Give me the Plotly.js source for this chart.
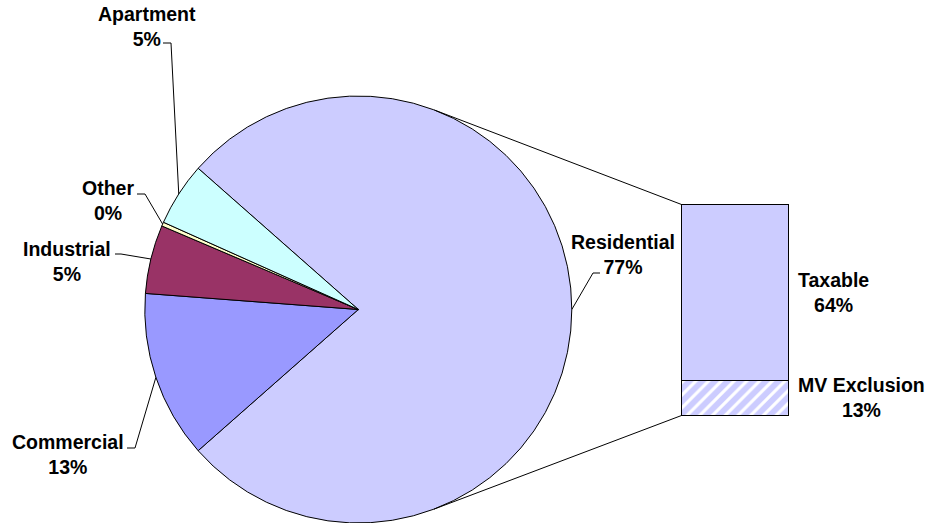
<!DOCTYPE html>
<html><head><meta charset="utf-8">
<script src="https://cdn.plot.ly/plotly-3.0.1.min.js"></script>
<style>html,body{margin:0;padding:0;background:#fff}#chart{width:932px;height:523px}</style>
</head><body><div id="chart"></div>
<script>
// ---- data ----
const pieLabels = ['Residential', 'Commercial', 'Industrial', 'Other', 'Apartment'];
const pieValues = [77.0, 12.7, 5.2, 0.3, 4.8];
const pieColors = ['#CCCCFF', '#9999FF', '#993366', '#FFFFCC', '#CCFFFF'];
const barLabels = ['MV Exclusion', 'Taxable'];
const barValues = [13, 64];

// ---- layout helpers (pixels -> paper) ----
const W = 932, H = 523;
const px = x => x / W, py = y => 1 - y / H;
const CX = 358.3, CY = 309.5, R = 213.5;
const total = pieValues.reduce((a, b) => a + b, 0);
const rotation = 90 - (pieValues[0] / total) * 180; // first slice centred at 3 o'clock

// slice mid points on the rim (compass angle, clockwise from 12 o'clock)
const rim = [];
let acc = rotation;
pieValues.forEach(v => {
  const mid = (acc + (v / total) * 180) * Math.PI / 180;
  rim.push([CX + R * Math.sin(mid), CY - R * Math.cos(mid)]);
  acc += (v / total) * 360;
});

// label placement (pixel positions of text block centre and leader elbow)
const pieLabelPos = [
  {x: 623, y: 254, l1: [600, 273], l2: [593, 273]},
  {x: 68, y: 454, l1: [127, 448], l2: [135, 448]},
  {x: 67, y: 261, l1: [115, 254], l2: [121, 254]},
  {x: 108, y: 201, l1: [137, 194], l2: [145, 194]},
  {x: 147, y: 26, l1: [163, 43], l2: [171, 43]}
];

const font = {family: 'Liberation Sans, Arial, sans-serif', size: 19.5, color: '#000', weight: 'bold'};
const annotations = [];
const shapes = [];
pieLabels.forEach((lab, i) => {
  const p = pieLabelPos[i];
  const pct = Math.round(pieValues[i] / total * 100);
  annotations.push({xref: 'paper', yref: 'paper', x: px(p.x), y: py(p.y), xanchor: 'center', yanchor: 'middle',
    text: lab + '<br>' + pct + '%', showarrow: false, align: 'center', font: font});
  shapes.push({type: 'path', xref: 'paper', yref: 'paper',
    path: `M ${px(p.l1[0])} ${py(p.l1[1])} L ${px(p.l2[0])} ${py(p.l2[1])} L ${px(rim[i][0])} ${py(rim[i][1])}`,
    line: {color: '#000', width: 1}});
});

// bar geometry (pixel box of the secondary bar)
const BX0 = 681, BX1 = 788, BY0 = 204.3, BY1 = 415.7;
const barTotal = barValues.reduce((a, b) => a + b, 0);
const PAD = 6; // extra pixels around the bar so its outline is not clipped
const xPerPx = 1 / (BX1 - BX0), yPerPx = barTotal / (BY1 - BY0);

// connector lines: tangents from bar corners to the pie circle
function tangent(P, upper) {
  const dx = P[0] - CX, dy = CY - P[1];
  const d = Math.hypot(dx, dy);
  const base = Math.atan2(dy, dx);
  const t = base + (upper ? 1 : -1) * Math.acos(R / d);
  return [CX + R * Math.cos(t), CY - R * Math.sin(t)];
}
[[[BX0, BY0], true], [[BX0, BY1], false]].forEach(([P, up]) => {
  const T = tangent(P, up);
  shapes.push({type: 'line', xref: 'paper', yref: 'paper', x0: px(T[0]), y0: py(T[1]), x1: px(P[0]), y1: py(P[1]),
    line: {color: '#000', width: 1}});
});

// bar labels
let cum = 0;
barLabels.forEach((lab, i) => {
  const mid = cum + barValues[i] / 2;
  cum += barValues[i];
  annotations.push({xref: 'paper', yref: 'y', x: px(796), y: mid, xanchor: 'left', yanchor: 'middle',
    text: lab + '<br>' + barValues[i] + '%', showarrow: false, align: 'center', font: font});
});

const traces = [
  {type: 'pie', labels: pieLabels, values: pieValues, sort: false, direction: 'clockwise', rotation: rotation,
   marker: {colors: pieColors, line: {color: '#000', width: 1}}, textinfo: 'none', hoverinfo: 'skip',
   showlegend: false, domain: {x: [px(CX - R), px(CX + R)], y: [py(CY + R), py(CY - R)]}},
  {type: 'bar', x: [0], y: [barValues[0]], name: barLabels[0], showlegend: false, hoverinfo: 'skip', width: 1,
   marker: {color: '#CCCCFF', line: {color: '#000', width: 1},
            pattern: {shape: '/', fgcolor: '#FFFFFF', bgcolor: '#CCCCFF', size: 9, solidity: 0.35, fillmode: 'replace'}}},
  {type: 'bar', x: [0], y: [barValues[1]], name: barLabels[1], showlegend: false, hoverinfo: 'skip', width: 1,
   marker: {color: '#CCCCFF', line: {color: '#000', width: 1}}}
];

const layout = {
  width: W, height: H, margin: {l: 0, r: 0, t: 0, b: 0},
  paper_bgcolor: '#fff', plot_bgcolor: 'rgba(0,0,0,0)',
  barmode: 'stack', bargap: 0,
  xaxis: {domain: [px(BX0 - PAD), px(BX1 + PAD)], range: [-0.5 - PAD * xPerPx, 0.5 + PAD * xPerPx],
          visible: false, fixedrange: true},
  yaxis: {domain: [py(BY1 + PAD), py(BY0 - PAD)], range: [-PAD * yPerPx, barTotal + PAD * yPerPx],
          visible: false, fixedrange: true},
  annotations: annotations, shapes: shapes
};

Plotly.newPlot('chart', traces, layout, {displayModeBar: false, staticPlot: true});
</script>
</body></html>
